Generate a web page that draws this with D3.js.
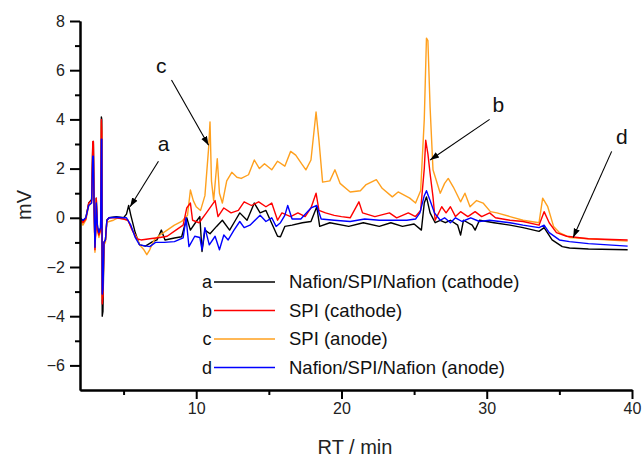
<!DOCTYPE html>
<html>
<head>
<meta charset="utf-8">
<script src="https://cdn.jsdelivr.net/npm/d3@7"></script>
<style>
  body { margin: 0; background: #fff; }
  text { font-family: "Liberation Sans", Arial, sans-serif; }
</style>
</head>
<body>
<div id="chart"></div>
<script>
(function(d3) {

// retention time (min) / signal (mV)
var seriesA = [ // Nafion/SPI/Nafion (cathode)
  [2.0,0],[2.2,-0.15],[2.4,0],[2.6,0.6],[2.8,0.75],[2.88,3.0],[2.92,3.1],[2.97,0.5],[3.03,-1.2],[3.08,-0.4],
  [3.12,0.8],[3.2,-0.4],[3.3,-0.6],[3.42,-0.4],[3.47,4.1],[3.5,4.0],[3.53,-4.0],[3.58,-3.8],[3.65,-1.0],[3.75,-0.9],
  [3.85,-0.1],[4.0,0],[4.5,0.05],[5.0,0.0],[5.2,0.15],[5.35,0.5],[5.5,0.1],[5.8,-0.6],[6.1,-1.1],[6.5,-1.15],
  [7.0,-0.97],[7.3,-0.9],[7.6,-0.5],[7.85,-0.9],[8.5,-0.82],[9.0,-0.77],[9.35,0.0],[9.6,-0.5],[10.0,-0.15],[10.25,0.05],
  [10.4,-1.37],[10.6,-0.5],[10.95,-0.65],[11.4,-0.35],[11.8,-0.1],[12.3,-0.5],[12.7,-0.1],[13.0,0.2],[13.5,-0.1],[14.0,0.6],
  [14.4,0.2],[14.8,0.3],[15.1,-0.1],[15.6,-0.75],[15.8,-0.77],[16.1,-0.35],[16.6,-0.3],[17.3,-0.2],[17.9,-0.15],[18.3,0.45],
  [18.5,-0.35],[19.2,-0.2],[20.5,-0.35],[21.5,-0.2],[22.6,-0.35],[23.4,-0.2],[24.2,-0.35],[25.0,-0.25],[25.5,-0.5],[25.7,0.6],
  [25.85,0.85],[26.1,0.2],[26.45,-0.2],[26.8,-0.1],[27.15,-0.2],[27.5,-0.1],[28.0,-0.3],[28.2,-0.7],[28.4,-0.1],[29.0,-0.3],
  [29.2,-0.5],[29.5,-0.1],[30.5,-0.2],[31.6,-0.3],[32.5,-0.4],[33.6,-0.55],[33.95,-0.4],[34.5,-0.9],[35.2,-1.17],[35.7,-1.23],
  [37,-1.27],[39.7,-1.3]
];
var seriesB = [ // SPI (cathode)
  [2.0,0],[2.2,-0.2],[2.4,-0.05],[2.6,0.6],[2.8,0.7],[2.88,3.1],[2.92,3.1],[2.97,0.5],[3.03,-1.3],[3.08,-0.5],
  [3.12,0.8],[3.2,-0.5],[3.3,-0.7],[3.42,-0.5],[3.47,4.0],[3.5,3.5],[3.53,-3.5],[3.58,-3.2],[3.65,-1.0],[3.75,-0.9],
  [3.85,-0.1],[4.0,0],[4.5,0.0],[5.0,-0.05],[5.3,-0.1],[5.6,-0.5],[5.9,-0.85],[6.2,-0.9],[6.8,-0.85],[7.5,-0.8],
  [8.0,-0.75],[8.6,-0.5],[9.1,-0.3],[9.35,0.4],[9.6,0.6],[9.75,-0.1],[10.2,-0.2],[10.7,0.2],[11.3,0.7],[11.5,0.05],
  [11.9,0.4],[12.4,0.2],[12.9,0.3],[13.3,0.65],[13.8,0.5],[14.3,0.65],[14.8,0.45],[15.2,0.6],[15.6,-0.1],[15.9,0.2],
  [16.5,0.05],[17.0,0.2],[17.5,0.05],[17.9,0.4],[18.25,1.0],[18.45,0.3],[18.9,0.2],[19.5,0.1],[20.0,0.05],[20.6,0.0],
  [21.2,0.65],[21.45,0.2],[22.3,0.05],[23.3,0.2],[23.8,0.0],[24.6,0.2],[25.1,0.05],[25.45,0.3],[25.7,2.0],[25.8,3.15],
  [25.95,2.6],[26.1,1.8],[26.3,0.85],[26.45,-0.1],[26.9,0.45],[27.2,0.2],[27.5,0.45],[27.85,0.05],[28.2,0.25],[28.7,0.05],
  [29.2,0.25],[29.65,0.05],[30.2,0.2],[30.6,0.0],[31.6,-0.1],[32.5,-0.15],[33.6,-0.3],[33.95,0.25],[34.3,-0.2],[34.8,-0.6],
  [35.5,-0.75],[37,-0.85],[39.7,-0.9]
];
var seriesC = [ // SPI (anode)
  [2.0,-0.05],[2.2,-0.3],[2.4,-0.1],[2.6,0.5],[2.8,0.6],[2.88,2.8],[2.92,3.0],[2.97,0.5],[3.03,-1.4],[3.08,-0.5],
  [3.12,0.7],[3.2,-0.5],[3.3,-0.8],[3.42,-0.5],[3.47,3.9],[3.5,3.3],[3.53,-3.3],[3.58,-3.0],[3.65,-1.1],[3.75,-1.0],
  [3.85,-0.2],[4.0,-0.15],[4.3,-0.1],[4.6,0.0],[5.0,-0.05],[5.3,-0.1],[5.6,-0.5],[5.9,-0.8],[6.1,-1.1],[6.4,-1.3],
  [6.6,-1.5],[6.8,-1.3],[7.1,-0.9],[7.5,-0.7],[8.0,-0.5],[8.5,-0.3],[9.0,-0.15],[9.4,0.1],[9.6,1.13],[9.8,0.7],
  [10.0,0.45],[10.3,0.3],[10.6,0.9],[10.85,2.8],[10.95,3.9],[11.05,1.5],[11.2,0.7],[11.45,2.4],[11.6,1.0],[11.8,0.6],
  [12.1,1.5],[12.45,1.85],[12.8,1.65],[13.1,1.6],[13.6,1.75],[14.0,2.35],[14.35,2.0],[14.7,2.2],[15.2,1.95],[15.6,2.3],
  [16.1,2.1],[16.5,2.7],[16.85,2.55],[17.25,2.2],[17.55,1.95],[17.9,2.35],[18.25,4.3],[18.45,3.15],[18.7,1.45],[19.2,1.5],
  [19.55,1.95],[19.9,1.4],[20.6,1.05],[21.3,1.1],[21.7,1.35],[22.4,1.55],[22.8,1.2],[23.5,0.85],[23.9,1.05],[24.7,0.8],
  [25.1,0.6],[25.45,1.1],[25.7,4.0],[25.85,7.3],[25.95,7.2],[26.1,4.5],[26.3,1.95],[26.8,1.0],[27.1,1.4],[27.35,1.6],
  [27.7,1.25],[28.2,0.65],[28.5,1.0],[28.85,0.45],[29.3,0.7],[29.75,0.6],[30.25,0.25],[30.7,0.2],[31.6,0.05],[32.5,-0.1],
  [33.6,-0.2],[33.85,0.8],[34.2,0.45],[34.6,-0.35],[35.0,-0.6],[35.7,-0.8],[37,-0.85],[39.7,-0.95]
];
var seriesD = [ // Nafion/SPI/Nafion (anode)
  [2.0,0],[2.2,-0.1],[2.4,0],[2.6,0.5],[2.8,0.6],[2.88,2.5],[2.92,2.5],[2.97,0.5],[3.03,-1.2],[3.08,-0.4],
  [3.12,0.6],[3.2,-0.3],[3.3,-0.6],[3.42,-0.4],[3.47,3.2],[3.5,3.2],[3.53,-3.1],[3.58,-2.9],[3.65,-1.0],[3.75,-0.9],
  [3.85,-0.1],[4.0,0],[4.5,0.02],[5.0,0],[5.2,0.0],[5.5,-0.3],[5.8,-0.8],[6.1,-1.1],[6.8,-1.17],[7.2,-1.0],
  [7.8,-1.0],[8.5,-0.97],[9.1,-0.82],[9.3,0.0],[9.5,-1.17],[9.9,-0.75],[10.25,-0.8],[10.4,-1.3],[10.6,-0.4],[10.9,-1.1],
  [11.3,-0.75],[11.6,-1.3],[11.9,-0.7],[12.2,-0.9],[12.6,-0.5],[13.0,-0.15],[13.3,-0.4],[13.7,-0.3],[14.4,0.1],[14.8,-0.15],
  [15.2,0.0],[15.5,-0.35],[15.8,-0.2],[16.1,0.1],[16.3,0.5],[16.6,-0.05],[17.2,-0.05],[17.9,0.4],[18.3,0.5],[18.6,-0.05],
  [19.5,-0.1],[20.6,-0.15],[21.6,-0.05],[22.6,-0.1],[23.5,-0.1],[24.5,-0.1],[25.1,-0.05],[25.4,0.2],[25.7,0.9],[25.85,1.1],
  [26.1,0.7],[26.4,0.2],[26.8,-0.1],[27.1,0.0],[27.5,-0.2],[27.85,0.0],[28.3,-0.15],[28.9,0.0],[29.5,-0.15],[30.2,-0.1],
  [31.6,-0.2],[32.5,-0.3],[33.6,-0.4],[33.95,-0.3],[34.3,-0.6],[35.0,-0.9],[35.7,-0.97],[37,-1.05],[39.7,-1.15]
];

var letters = ['a', 'b', 'c', 'd'];
var labels = ['Nafion/SPI/Nafion (cathode)', 'SPI (cathode)', 'SPI (anode)', 'Nafion/SPI/Nafion (anode)'];
var colors = ['#000000', '#ff0000', '#ffa01e', '#0000ff'];

var xMajor = [10, 20, 30, 40];
var xMinor = [5, 15, 25, 35];
var yMajor = [-6, -4, -2, 0, 2, 4, 6, 8];
var yMinor = [-5, -3, -1, 1, 3, 5, 7];

// annotation arrows: letter, letter position (t, mV), arrow from / to (t, mV)
var notes = [
  { id: 'c', at: [7.6, 5.9], from: [8.3, 5.6], to: [10.85, 2.95] },
  { id: 'a', at: [7.75, 2.7], from: [7.4, 2.3], to: [5.45, 0.45] },
  { id: 'b', at: [30.8, 4.3], from: [30.2, 4.0], to: [26.1, 2.35] },
  { id: 'd', at: [39.3, 3.0], from: [38.6, 2.7], to: [35.95, -0.8] }
];

var width = 642;
var height = 459;

var svg = d3.select('#chart')
  .append('svg')
  .attr('width', width)
  .attr('height', height);

var x = d3.scaleLinear().domain([2, 40]).range([80, 632]);
var y = d3.scaleLinear().domain([-7, 8]).range([390, 21]);

svg.append('defs').append('marker')
  .attr('id', 'arrow')
  .attr('viewBox', '0 0 10 10')
  .attr('refX', 10)
  .attr('refY', 5)
  .attr('markerWidth', 9)
  .attr('markerHeight', 9)
  .attr('markerUnits', 'userSpaceOnUse')
  .attr('orient', 'auto')
  .append('path')
  .attr('d', 'M0,1.5 L10,5 L0,8.5 z')
  .attr('fill', '#000');

// traces
var line = d3.line()
  .x(function(d) { return x(d[0]); })
  .y(function(d) { return y(d[1]); });

var drawOrder = [0, 2, 1, 3];
var allSeries = [seriesA, seriesB, seriesC, seriesD];
drawOrder.forEach(function(i) {
  svg.append('path')
    .datum(allSeries[i])
    .attr('d', line)
    .attr('fill', 'none')
    .attr('stroke', colors[i])
    .attr('stroke-width', 1.4)
    .attr('stroke-linejoin', 'round');
});

// axes
function styleAxis(g) {
  g.selectAll('path, line').attr('stroke', '#000').attr('stroke-width', 2);
  g.selectAll('text').attr('font-size', 16).attr('fill', '#222')
    .style('font-family', '"Liberation Sans", Arial, sans-serif');
}

svg.append('g')
  .attr('transform', 'translate(0,390)')
  .call(d3.axisBottom(x).tickValues(xMinor).tickSize(5).tickSizeOuter(0).tickFormat(''))
  .call(styleAxis);
svg.append('g')
  .attr('transform', 'translate(0,390)')
  .call(d3.axisBottom(x).tickValues(xMajor).tickSize(9).tickSizeOuter(0).tickPadding(4))
  .call(styleAxis);

svg.append('g')
  .attr('transform', 'translate(80,0)')
  .call(d3.axisLeft(y).tickValues(yMinor).tickSize(5).tickSizeOuter(0).tickFormat(''))
  .call(styleAxis);
svg.append('g')
  .attr('transform', 'translate(80,0)')
  .call(d3.axisLeft(y).tickValues(yMajor).tickSize(10).tickSizeOuter(0).tickPadding(5))
  .call(styleAxis);

svg.append('text')
  .attr('x', 355)
  .attr('y', 454)
  .attr('text-anchor', 'middle')
  .attr('font-size', 20)
  .attr('fill', '#222')
  .text('RT / min');

svg.append('text')
  .attr('transform', 'translate(31,205) rotate(-90)')
  .attr('text-anchor', 'middle')
  .attr('font-size', 20)
  .attr('fill', '#222')
  .text('mV');

// annotations
var note = svg.selectAll('.note')
  .data(notes)
  .enter()
  .append('g')
  .attr('class', 'note');

note.append('line')
  .attr('x1', function(d) { return x(d.from[0]); })
  .attr('y1', function(d) { return y(d.from[1]); })
  .attr('x2', function(d) { return x(d.to[0]); })
  .attr('y2', function(d) { return y(d.to[1]); })
  .attr('stroke', '#000')
  .attr('stroke-width', 1.1)
  .attr('marker-end', 'url(#arrow)');

note.append('text')
  .attr('x', function(d) { return x(d.at[0]); })
  .attr('y', function(d) { return y(d.at[1]); })
  .attr('text-anchor', 'middle')
  .attr('font-size', 21)
  .attr('fill', '#111')
  .text(function(d) { return d.id; });

// legend
var legendTop = 282;
var legendStep = 28.5;
var legend = svg.selectAll('.legend')
  .data(letters)
  .enter()
  .append('g')
  .attr('class', 'legend')
  .attr('transform', function(d, i) {
    return 'translate(0,' + (legendTop + i * legendStep) + ')';
  });

legend.append('text')
  .attr('x', 207)
  .attr('y', 6)
  .attr('text-anchor', 'middle')
  .attr('font-size', 18)
  .attr('fill', '#111')
  .text(function(d) { return d; });

legend.append('line')
  .attr('x1', 214)
  .attr('x2', 275)
  .attr('stroke', function(d, i) { return colors[i]; })
  .attr('stroke-width', 1.6);

legend.append('text')
  .attr('x', 289)
  .attr('y', 6)
  .attr('font-size', 18.5)
  .attr('fill', '#111')
  .text(function(d, i) { return labels[i]; });

})(window.d3);
</script>
</body>
</html>
